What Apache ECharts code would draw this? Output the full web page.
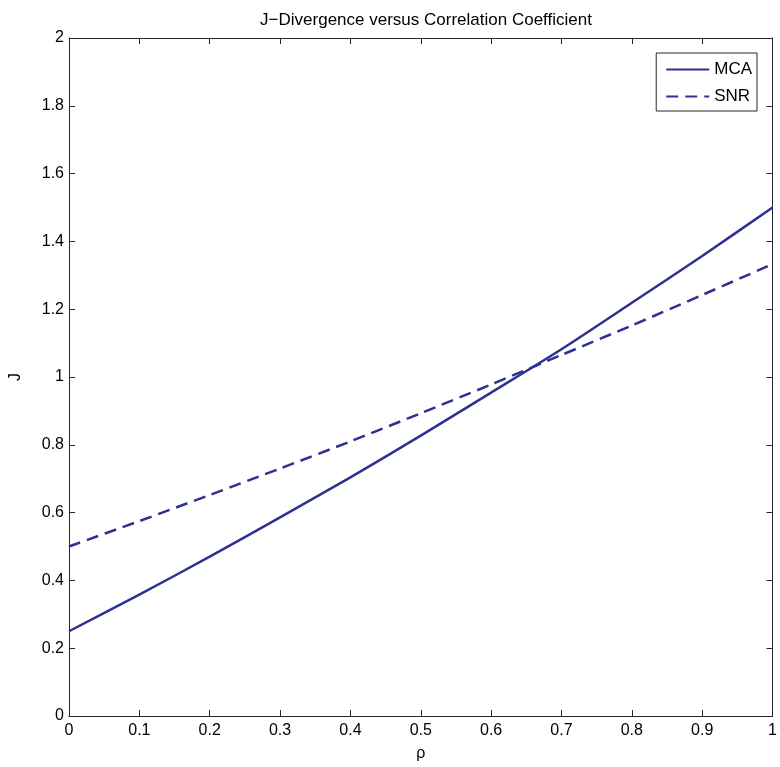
<!DOCTYPE html>
<html>
<head>
<meta charset="utf-8">
<script src="https://cdn.jsdelivr.net/npm/echarts@6/dist/echarts.min.js"></script>
<style>
  html, body { margin: 0; padding: 0; background: #fff; }
  #chart { width: 780px; height: 767px; }
</style>
</head>
<body>
<div id="chart"></div>
<script>
// values
const rho = [0, 0.1, 0.2, 0.3, 0.4, 0.5, 0.6, 0.7, 0.8, 0.9, 1.0];
const mcaValues = [0.25, 0.358, 0.47, 0.586, 0.704, 0.827, 0.954, 1.082, 1.219, 1.357, 1.5];
const snrValues = [0.5, 0.575, 0.652, 0.73, 0.81, 0.893, 0.978, 1.065, 1.152, 1.242, 1.333];

const lineColor = "#2d3192";
const axisColor = "#262626";
const font = "'Liberation Sans', Arial, Helvetica, sans-serif";

const chart = echarts.init(document.getElementById("chart"));

// box axes: lines on all four sides, ticks pointing inwards
const boxAxis = {
  axisLine: { show: true, onZero: false, lineStyle: { color: axisColor, width: 1 } },
  axisTick: { show: true, inside: true, length: 6, lineStyle: { color: axisColor } },
  splitLine: { show: false },
};

chart.setOption({
  animation: false,
  backgroundColor: "#fff",
  title: {
    text: "J\u2212Divergence versus Correlation Coefficient",
    left: 421,
    textAlign: "center",
    top: 7,
    textStyle: { fontFamily: font, fontSize: 17, fontWeight: "normal", color: "#000" },
  },
  legend: {
    orient: "vertical",
    right: 23,
    top: 53,
    padding: [8, 5, 6, 9],
    itemWidth: 43,
    itemHeight: 14,
    itemGap: 10,
    itemStyle: { opacity: 0 },
    backgroundColor: "#fff",
    borderColor: axisColor,
    borderWidth: 1,
    textStyle: { fontFamily: font, fontSize: 17, color: "#000" },
    data: ["MCA", "SNR"],
  },
  grid: { left: 64, right: 2, top: 38, bottom: 40 },
  xAxis: [
    Object.assign({}, boxAxis, {
      type: "value",
      min: 0,
      max: 1,
      interval: 0.1,
      name: "\u03c1",
      nameLocation: "middle",
      nameGap: 30,
      nameTextStyle: { fontFamily: font, fontSize: 16, color: "#000" },
      axisLabel: { fontFamily: font, fontSize: 16, color: "#000", margin: 7 },
    }),
    Object.assign({}, boxAxis, {
      type: "value",
      position: "top",
      min: 0,
      max: 1,
      interval: 0.1,
      axisLabel: { show: false },
    }),
  ],
  yAxis: [
    Object.assign({}, boxAxis, {
      type: "value",
      min: 0,
      max: 2,
      interval: 0.2,
      name: "J",
      nameLocation: "middle",
      nameGap: 45,
      nameTextStyle: { fontFamily: font, fontSize: 16, color: "#000" },
      axisLabel: { fontFamily: font, fontSize: 16, color: "#000", margin: 5 },
    }),
    Object.assign({}, boxAxis, {
      type: "value",
      position: "right",
      min: 0,
      max: 2,
      interval: 0.2,
      axisLabel: { show: false },
    }),
  ],
  series: [
    {
      name: "MCA",
      type: "line",
      showSymbol: false,
      symbol: "none",
      smooth: 0.2,
      lineStyle: { color: lineColor, width: 2.5 },
      itemStyle: { color: lineColor },
      data: rho.map((r, i) => [r, mcaValues[i]]),
    },
    {
      name: "SNR",
      type: "line",
      showSymbol: false,
      symbol: "none",
      smooth: 0.2,
      lineStyle: { color: lineColor, width: 2.5, type: [12, 7] },
      itemStyle: { color: lineColor },
      data: rho.map((r, i) => [r, snrValues[i]]),
    },
  ],
});
</script>
</body>
</html>
